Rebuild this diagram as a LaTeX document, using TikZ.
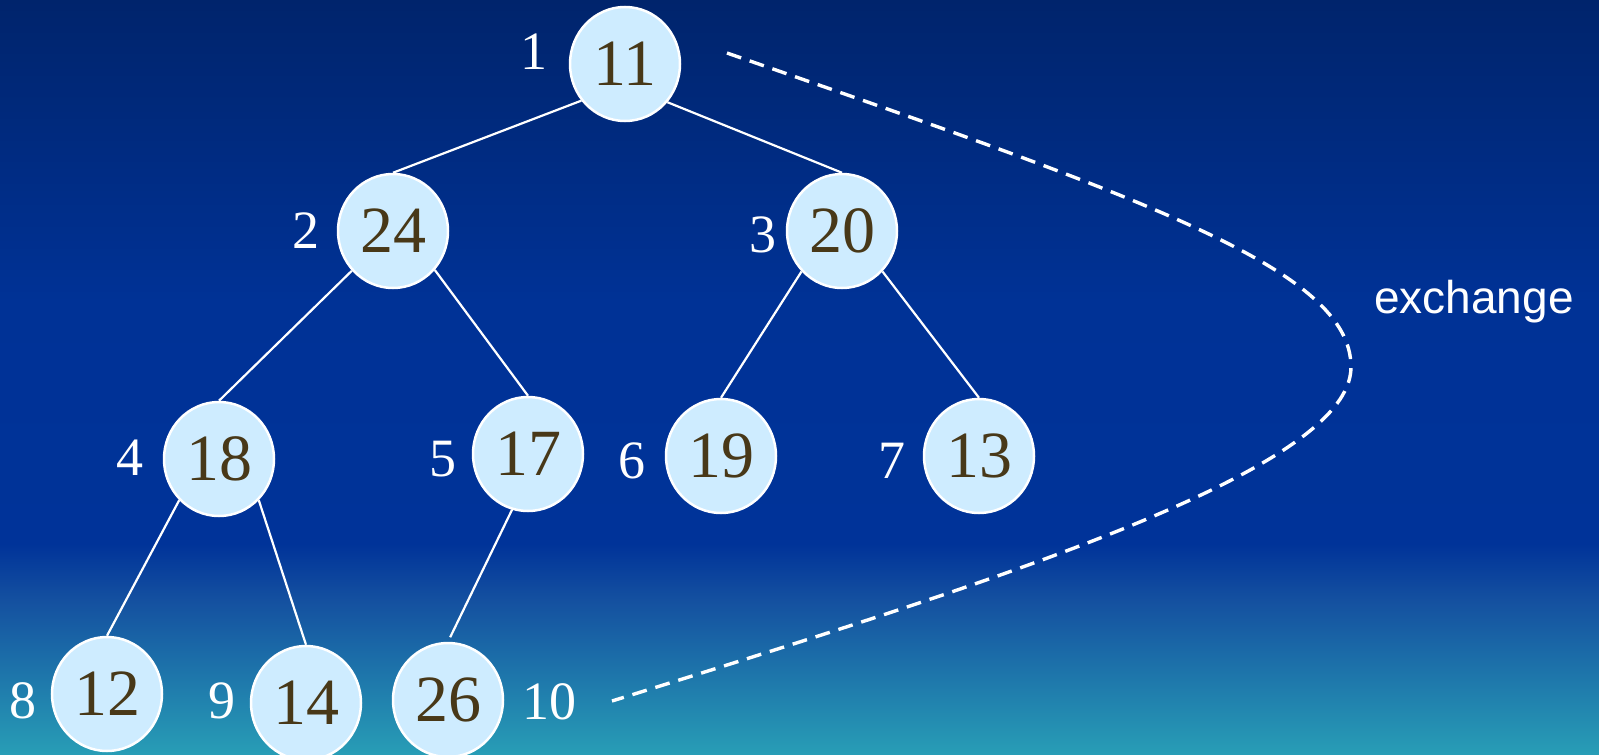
\documentclass[tikz,border=0pt]{standalone}
\usepackage{fontspec}
\setmainfont{Liberation Serif}
\newfontfamily\arialf{Liberation Sans}
\usetikzlibrary{shapes.geometric}
\definecolor{bgtop}{RGB}{0,36,108}
\definecolor{bgmid}{RGB}{0,50,150}
\definecolor{bgmidb}{RGB}{0,51,153}
\definecolor{bglow}{RGB}{20,80,160}
\definecolor{bgbot}{RGB}{40,158,182}
\definecolor{nodefill}{RGB}{206,236,255}
\definecolor{nodetext}{RGB}{72,56,24}
\pgfdeclareverticalshading{bgsh}{100bp}{color(0bp)=(bgbot); color(25bp)=(bgbot); color(35.3bp)=(bglow); color(39bp)=(bgmidb); color(55bp)=(bgmid); color(75bp)=(bgtop); color(100bp)=(bgtop)}
\tikzset{
  heapnode/.style={ellipse, draw=white, line width=2.5pt, fill=nodefill, text=nodetext,
    minimum width=110pt, minimum height=114pt, inner sep=0pt,
    font=\fontsize{66}{70}\selectfont},
  lbl/.style={text=white, inner sep=0pt, font=\fontsize{54}{58}\selectfont},
  edge/.style={draw=white, line width=2.2pt},
  dashline/.style={draw=white, line width=3.4pt, dash pattern=on 15pt off 9pt},
}
\begin{document}
\begin{tikzpicture}[x=1pt,y=-1pt]
\useasboundingbox (0,0) rectangle (1599,755);
\fill[shading=bgsh] (0,0) rectangle (1599,755);
% nodes
\node[heapnode] (n1) at (625,64) {11};
\node[heapnode] (n2) at (393,231) {24};
\node[heapnode] (n3) at (842,231) {20};
\node[heapnode] (n4) at (219,459) {18};
\node[heapnode] (n5) at (528,454) {17};
\node[heapnode] (n6) at (721,456) {19};
\node[heapnode] (n7) at (979,456) {13};
\node[heapnode] (n8) at (107,694) {12};
\node[heapnode] (n9) at (306,703) {14};
\node[heapnode] (n10) at (448,700) {26};
% index labels
\node[lbl] (l1) at (534,52) {1};
\node[lbl] (l2) at (306,231) {2};
\node[lbl] (l3) at (763,235) {3};
\node[lbl] (l4) at (130,458) {4};
\node[lbl] (l5) at (443,459) {5};
\node[lbl] (l6) at (632,461) {6};
\node[lbl] (l7) at (892,461) {7};
\node[lbl] (l8) at (23,701) {8};
\node[lbl] (l9) at (222,701) {9};
\node[lbl] (l10) at (549,702) {10};
\node[text=white, inner sep=0pt, font=\arialf\fontsize{46}{50}\selectfont] (ex) at (1474,302) {exchange};
% edges
\draw[edge] (n1.220) -- (n2.north);
\draw[edge] (n1.318) -- (n3.north);
\draw[edge] (n2.224) -- (n4.north);
\draw[edge] (n2.317) -- (n5.north);
\draw[edge] (n3.225) -- (n6.north);
\draw[edge] (n3.315) -- (n7.north);
\draw[edge] (n4.226) -- (n8.north);
\draw[edge] (n4.314) -- (n9.north);
\draw[edge, shorten >=5pt] (n5.254) -- (n10.north);
% dashed exchange curve
\coordinate (dA) at (727,53);
\coordinate (dR) at (1351,367);
\coordinate (dB) at (612,701);
\draw[dashline] (dA) .. controls (1150,200) and (1351,270) .. (dR)
  .. controls (1351,470) and (1000,580) .. (dB);
\end{tikzpicture}
\end{document}
